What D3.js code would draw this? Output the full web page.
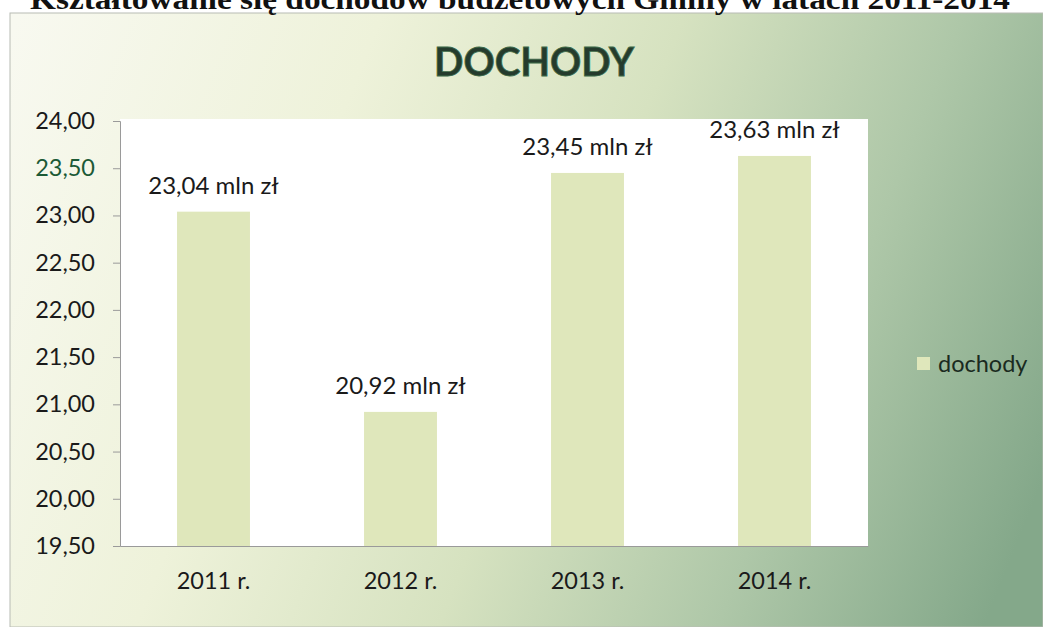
<!DOCTYPE html>
<html>
<head>
<meta charset="utf-8">
<script src="https://cdn.jsdelivr.net/npm/d3@7"></script>
<style>
  body { margin: 0; background: #fff; }
  svg { display: block; }
</style>
</head>
<body>
<script>
var years = ["2011 r.", "2012 r.", "2013 r.", "2014 r."];
var dochody = [23.04, 20.92, 23.45, 23.63];
var yTicks = [19.5, 20, 20.5, 21, 21.5, 22, 22.5, 23, 23.5, 24];
var seriesName = "dochody";
var pageTitle = "Kształtowanie się dochodów budżetowych Gminy w latach 2011-2014";
var chartTitle = "DOCHODY";

var outerWidth = 1043, outerHeight = 627;
var plot = { left: 120, top: 121, right: 868, bottom: 546 };
var font = "Lato, 'Open Sans', sans-serif";

var svg = d3.select("body").append("svg").attr("width", outerWidth).attr("height", outerHeight);

var defs = svg.append("defs");
var grad = defs.append("linearGradient").attr("id", "bg")
  .attr("gradientUnits", "userSpaceOnUse")
  .attr("x1", 0).attr("y1", 60).attr("x2", 1043).attr("y2", 480);
grad.append("stop").attr("offset", 0).attr("stop-color", "#f8f9f0");
grad.append("stop").attr("offset", 0.3).attr("stop-color", "#eef2da");
grad.append("stop").attr("offset", 0.55).attr("stop-color", "#d6e2c0");
grad.append("stop").attr("offset", 0.78).attr("stop-color", "#aec7a8");
grad.append("stop").attr("offset", 1).attr("stop-color", "#84a88a");

// chart frame
svg.append("rect").attr("x", 10).attr("y", 13).attr("width", outerWidth - 10).attr("height", outerHeight - 13)
  .attr("fill", "url(#bg)").attr("stroke", "#b8bcb4").attr("stroke-width", 1);

// page heading, cut at the top edge like the scan
svg.append("text").attr("x", 520).attr("y", 9).attr("text-anchor", "middle")
  .attr("textLength", 980).attr("lengthAdjust", "spacingAndGlyphs")
  .style("font-family", "'Liberation Serif', 'DejaVu Serif', serif").style("font-weight", "bold").style("font-size", "30px")
  .attr("fill", "#111").text(pageTitle);

svg.append("text").attr("x", 534).attr("y", 76).attr("text-anchor", "middle")
  .style("font-family", font).style("font-weight", "bold").style("font-size", "40px")
  .attr("fill", "#253b2d").attr("stroke", "#3d6a48").attr("stroke-width", 0.8)
  .attr("textLength", 200).attr("lengthAdjust", "spacingAndGlyphs")
  .text(chartTitle);

var x = d3.scaleBand().domain(years).range([plot.left, plot.right]).paddingInner(0.61).paddingOuter(0.305);
var y = d3.scaleLinear().domain([19.5, 24]).range([plot.bottom, plot.top]);

svg.append("rect").attr("x", plot.left).attr("y", plot.top - 2).attr("width", plot.right - plot.left)
  .attr("height", plot.bottom - plot.top + 2).attr("fill", "#fff");

var fmt = function (v) { return d3.format(".2f")(v).replace(".", ","); };

svg.selectAll("rect.bar").data(dochody).enter().append("rect").attr("class", "bar")
  .attr("x", function (d, i) { return x(years[i]); })
  .attr("y", function (d) { return y(d); })
  .attr("width", x.bandwidth())
  .attr("height", function (d) { return y(19.5) - y(d); })
  .attr("fill", "#dfe7bb");

svg.selectAll("text.val").data(dochody).enter().append("text").attr("class", "val")
  .attr("x", function (d, i) { return x(years[i]) + x.bandwidth() / 2; })
  .attr("y", function (d) { return y(d) - 18; })
  .attr("text-anchor", "middle")
  .style("font-family", font).style("font-size", "24px").attr("fill", "#1a1a1a")
  .text(function (d) { return fmt(d) + " mln zł"; });

var yAxis = d3.axisLeft(y).tickValues(yTicks).tickSize(7).tickPadding(18).tickFormat(fmt);
var yAxisGroup = svg.append("g").attr("transform", "translate(" + plot.left + ",0)").call(yAxis);
yAxisGroup.select(".domain").attr("stroke", "#9a9a9a");
yAxisGroup.selectAll(".tick line").attr("stroke", "#9a9a9a");
yAxisGroup.selectAll(".tick text")
  .style("font-family", font).style("font-size", "23.5px")
  .attr("fill", function (d) { return d === 23.5 ? "#1c5a36" : "#1a1a1a"; });

var xAxis = d3.axisBottom(x).tickSize(0).tickPadding(26);
var xAxisGroup = svg.append("g").attr("transform", "translate(0," + plot.bottom + ")").call(xAxis);
xAxisGroup.select(".domain").attr("stroke", "#9a9a9a");
xAxisGroup.selectAll(".tick text")
  .style("font-family", font).style("font-size", "23.5px").attr("fill", "#1a1a1a");

// legend
var legend = svg.append("g").attr("transform", "translate(917,357)");
legend.append("rect").attr("width", 13).attr("height", 13).attr("fill", "#dfe7bb");
legend.append("text").attr("x", 21).attr("y", 15)
  .style("font-family", font).style("font-size", "23.5px").attr("fill", "#1a2a20")
  .text(seriesName);
</script>
</body>
</html>
